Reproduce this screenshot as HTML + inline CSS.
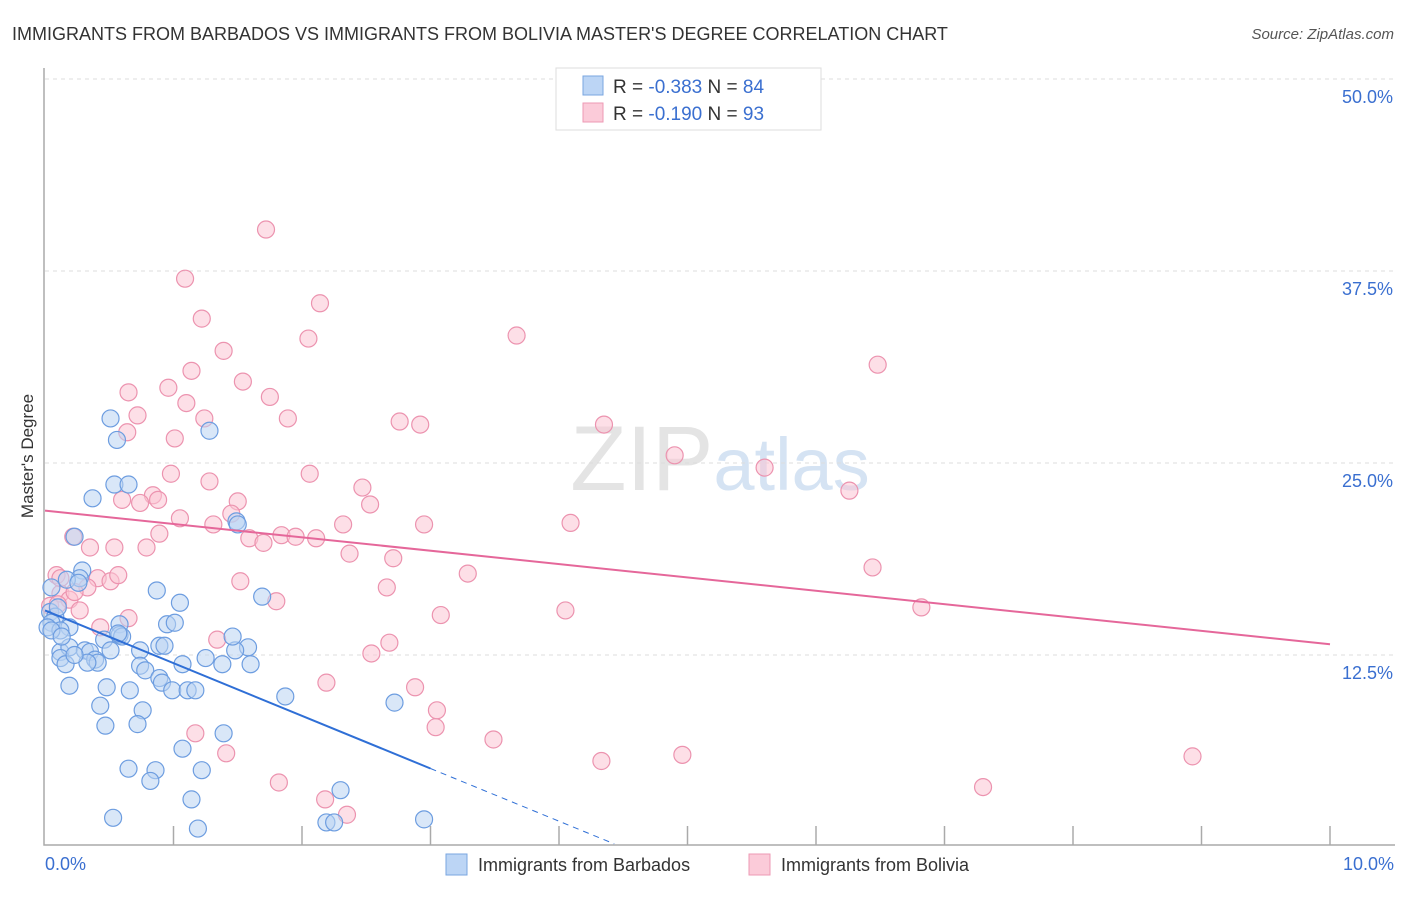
<!DOCTYPE html>
<html><head><meta charset="utf-8"><style>
body{margin:0;background:#fff;font-family:"Liberation Sans",sans-serif;}
svg text{font-family:"Liberation Sans",sans-serif;}
</style></head><body>
<svg id="chart" width="1406" height="892" xmlns="http://www.w3.org/2000/svg">
<text x="12" y="40" font-size="18" fill="#333">IMMIGRANTS FROM BARBADOS VS IMMIGRANTS FROM BOLIVIA MASTER'S DEGREE CORRELATION CHART</text>
<text x="1394" y="39" font-size="15" fill="#555" text-anchor="end" font-style="italic">Source: ZipAtlas.com</text>
<text x="720" y="490" font-size="92" text-anchor="middle" fill="#e4e4e4" font-family="Liberation Serif">ZIP<tspan fill="#d5e3f3" font-family="Liberation Sans" font-size="74">atlas</tspan></text>
<g id="grid"></g>
<g id="axes"></g>
<g id="pts"></g>
<g id="trend"></g>
<text transform="translate(33,456) rotate(-90)" font-size="17" fill="#333" text-anchor="middle">Master's Degree</text>
<g>
<rect x="556" y="68" width="265" height="62" fill="#fff" stroke="#ddd"/>
<rect x="583" y="76" width="20" height="19" fill="#bcd5f5" stroke="#7aa6e0"/>
<text x="613" y="93" font-size="19" fill="#333">R = <tspan fill="#3a6fd0">-0.383</tspan>   N = <tspan fill="#3a6fd0">84</tspan></text>
<rect x="583" y="103" width="20" height="19" fill="#fbcbd9" stroke="#ee9ab4"/>
<text x="613" y="120" font-size="19" fill="#333">R =  <tspan fill="#3a6fd0">-0.190</tspan>   N = <tspan fill="#3a6fd0">93</tspan></text>
</g>
<g>
<rect x="446" y="854" width="21" height="21" fill="#bcd5f5" stroke="#7aa6e0"/>
<text x="478" y="871" font-size="18" fill="#333">Immigrants from Barbados</text>
<rect x="749" y="854" width="21" height="21" fill="#fbcbd9" stroke="#ee9ab4"/>
<text x="781" y="871" font-size="18" fill="#333">Immigrants from Bolivia</text>
</g>
</svg>
<script>
const blueX=[.51,.56,1.28,.37,.54,.65,1.49,1.50,.23,.29,.27,.17,.26,.05,.87,1.05,1.69,.04,.08,.05,.02,.19,.12,.58,.95,1.01,.46,.58,.60,.89,.93,.74,.12,.19,.31,.35,.39,.41,.33,.51,.12,.74,.78,1.07,1.25,1.38,1.58,1.60,1.48,.89,.91,.99,1.11,1.17,.19,.48,.66,1.87,2.72,.43,.76,1.39,.47,.72,1.07,.65,.86,1.22,.82,2.30,1.14,.53,1.19,2.19,2.25,2.95,.16,.23,.05,.13,.57,1.46,.10];
const blueY=[27.9,26.5,27.1,22.7,23.6,23.6,21.2,21.0,20.2,18.0,17.5,17.4,17.2,16.9,16.7,15.9,16.3,15.3,15.0,14.6,14.3,14.3,14.1,14.5,14.5,14.6,13.5,13.8,13.7,13.1,13.1,12.8,12.7,13.0,12.8,12.7,12.2,12.0,12.0,12.8,12.3,11.8,11.5,11.9,12.3,11.9,13.0,11.9,12.8,11.0,10.7,10.2,10.2,10.2,10.5,10.4,10.2,9.8,9.4,9.2,8.9,7.4,7.9,8.0,6.4,5.1,5.0,5.0,4.3,3.7,3.1,1.9,1.2,1.6,1.6,1.8,11.9,12.5,14.1,13.7,13.9,13.7,15.6];
const pinkX=[1.72,1.09,2.14,1.22,2.05,3.67,1.39,6.48,1.14,.96,.65,1.54,1.75,1.10,.72,1.24,1.89,2.76,2.92,4.35,.64,1.01,4.90,5.60,.98,1.28,2.06,2.47,6.26,.84,.74,.88,1.50,.60,2.53,1.45,1.05,1.31,2.32,2.95,4.09,.22,.89,1.59,1.70,1.84,1.95,2.11,.35,.54,.79,2.37,2.71,3.29,6.44,.09,.41,.51,.57,1.52,2.66,.33,.12,.19,.23,.04,.10,1.80,4.05,3.08,6.82,.43,1.34,2.68,2.54,2.19,2.88,3.05,3.04,3.49,1.17,1.41,4.33,4.96,8.93,1.82,2.18,2.35,7.30,.65,.27,.12];
const pinkY=[40.2,37.0,35.4,34.4,33.1,33.3,32.3,31.4,31.0,29.9,29.6,30.3,29.3,28.9,28.1,27.9,27.9,27.7,27.5,27.5,27.0,26.6,25.5,24.7,24.3,23.8,24.3,23.4,23.2,22.9,22.4,22.6,22.5,22.6,22.3,21.7,21.4,21.0,21.0,21.0,21.1,20.2,20.4,20.1,19.8,20.3,20.2,20.1,19.5,19.5,19.5,19.1,18.8,17.8,18.2,17.7,17.5,17.3,17.7,17.3,16.9,16.9,16.5,16.1,16.6,15.7,15.8,16.0,15.4,15.1,15.6,14.3,13.5,13.3,12.6,10.7,10.4,8.9,7.8,7.0,7.4,6.1,5.6,6.0,5.9,4.2,3.1,2.1,3.9,14.9,15.4,17.5];
const yTicks=[12.5,25.0,37.5,50.0];
const xTicks=[0,1,2,3,4,5,6,7,8,9,10];
const blueTrend=[15.4,-3.43]; // intercept, slope
const pinkTrend=[21.9,-0.87];
const blueSolidEnd=3.0, blueDashEnd=4.43;

const NS="http://www.w3.org/2000/svg";
const X=v=>45+v*128.5, Y=v=>847-v*15.36;
function mk(tag,attrs,parent){const e=document.createElementNS(NS,tag);for(const k in attrs)e.setAttribute(k,attrs[k]);parent.appendChild(e);return e;}
const grid=document.getElementById('grid'),axes=document.getElementById('axes'),pts=document.getElementById('pts'),trend=document.getElementById('trend');
yTicks.forEach(t=>{
  const l=mk('line',{x1:45,x2:1395,y1:Y(t),y2:Y(t),stroke:'#ddd','stroke-dasharray':'4,4'},grid);
  
  
  const tx=mk('text',{x:1393,y:Y(t)+24,'font-size':18,fill:'#3a6fd0','text-anchor':'end'},grid);
  tx.textContent=t.toFixed(1)+'%';
  
  
});
const ax=mk('path',{d:'M44 68 V845 H1395',fill:'none',stroke:'#aaa','stroke-width':1.5},axes);


xTicks.forEach(t=>{
  if(t===0)return;
  const l=mk('line',{x1:X(t),x2:X(t),y1:826,y2:845,stroke:'#aaa','stroke-width':1.5},axes);
  
  
});
[[0,'start',45],[10,'end',1394]].forEach(([t,a,x])=>{
  const tx=mk('text',{x:x,y:870,'font-size':18,fill:'#3a6fd0','text-anchor':a},axes);
  tx.textContent=t.toFixed(1)+'%';
  
  
});
function dots(xs,ys,fill,stroke,name){
  xs.forEach((x,i)=>{
    const c=mk('circle',{cx:X(x),cy:Y(ys[i]),r:8.5,fill:fill,'fill-opacity':0.55,stroke:stroke,'stroke-width':1.2},pts);
    
    
  });
}
dots(pinkX,pinkY,'#fbc4d4','#ec93af','bolivia-point');
dots(blueX,blueY,'#b9d3f3','#6d9de0','barbados-point');
const bf=x=>blueTrend[0]+blueTrend[1]*x, pf=x=>pinkTrend[0]+pinkTrend[1]*x;
const b1=mk('line',{x1:X(0),y1:Y(bf(0)),x2:X(blueSolidEnd),y2:Y(bf(blueSolidEnd)),stroke:'#2f6fd6','stroke-width':2},trend);


const b2=mk('line',{x1:X(blueSolidEnd),y1:Y(bf(blueSolidEnd)),x2:X(blueDashEnd),y2:Y(bf(blueDashEnd)),stroke:'#2f6fd6','stroke-width':1,'stroke-dasharray':'6,5'},trend);


const p1=mk('line',{x1:X(0),y1:Y(pf(0)),x2:X(10),y2:Y(pf(10)),stroke:'#e5679a','stroke-width':2},trend);


</script>
</body></html>
